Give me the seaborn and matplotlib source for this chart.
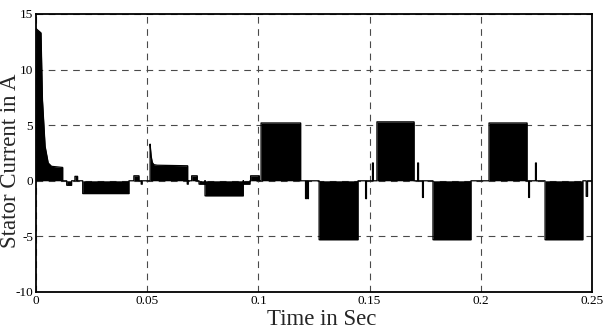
import pandas as pd
import matplotlib
matplotlib.use('Agg')
import matplotlib.pyplot as plt
import seaborn as sns

# Stator current envelope (PWM chopped blocks)
# rectangular blocks and switching spikes: start time, end time, level (A)
seg_start = [0.0138, 0.0175, 0.0210, 0.0440, 0.0473, 0.0680, 0.0700, 0.0733, 0.0760,
             0.0932, 0.0965, 0.1012, 0.1212, 0.1221, 0.1273, 0.1482, 0.1513, 0.1533,
             0.1716, 0.1738, 0.1785, 0.2037, 0.2215, 0.2246, 0.2289, 0.2474]
seg_end = [0.0160, 0.0187, 0.0418, 0.0463, 0.0477, 0.0684, 0.0725, 0.0760, 0.0932,
           0.0962, 0.1004, 0.1190, 0.1216, 0.1225, 0.1448, 0.1486, 0.1517, 0.1700,
           0.1720, 0.1742, 0.1956, 0.2208, 0.2219, 0.2250, 0.2459, 0.2480]
seg_level = [-0.4, 0.4, -1.15, 0.45, -0.3, -0.3, 0.45, -0.3, -1.35,
             -0.3, 0.45, 5.2, -1.6, -1.6, -5.3, -1.6, 1.6, 5.3,
             1.6, -1.5, -5.3, 5.2, -1.5, 1.6, -5.3, -1.4]

# starting surge and the second transient
surge1_t = [0.0, 0.0005, 0.00225, 0.0029, 0.0041, 0.0055, 0.0070, 0.0120]
surge1_i = [13.7, 13.6, 13.3, 7.3, 3.1, 1.6, 1.3, 1.2]
surge2_t = [0.0513, 0.0518, 0.0523, 0.0530, 0.0545, 0.0682]
surge2_i = [3.3, 2.2, 1.65, 1.45, 1.4, 1.35]

x_ticks = [0, 0.05, 0.1, 0.15, 0.2, 0.25]
x_labels = ['0', '0.05', '0.1', '0.15', '0.2', '0.25']
y_ticks = [-10, -5, 0, 5, 10, 15]
y_labels = ['-10', '-5', '0', '5', '10', '15']

# build one outline going back to zero between pieces
pieces = [(surge1_t, surge1_i), (surge2_t, surge2_i)]
for s, e, lv in zip(seg_start, seg_end, seg_level):
    pieces.append(([s, e], [lv, lv]))
pieces.sort(key=lambda p: p[0][0])

t_line = [0.0]
i_line = [0.0]
for tt, ii in pieces:
    t_line += [tt[0]] + list(tt) + [tt[-1]]
    i_line += [0.0] + list(ii) + [0.0]
t_line.append(0.25)
i_line.append(0.0)

df = pd.DataFrame({'Time': t_line, 'Current': i_line})

sns.set_style('white')
plt.rcParams['font.family'] = ['Liberation Serif', 'DejaVu Serif']
plt.rcParams['axes.unicode_minus'] = False

fig = plt.figure(figsize=(6.04, 3.29), dpi=100)
ax = fig.add_axes([0.0596, 0.1125, 0.9205, 0.845])

ax.fill_between(df['Time'], df['Current'], 0, color='black', lw=0, zorder=3)
sns.lineplot(data=df, x='Time', y='Current', estimator=None, sort=False,
             color='black', lw=0.9, ax=ax, zorder=4)

ax.set_xlim(0, 0.25)
ax.set_ylim(-10, 15)
ax.set_xticks(x_ticks)
ax.set_xticklabels(x_labels)
ax.set_yticks(y_ticks)
ax.set_yticklabels(y_labels)
ax.tick_params(direction='in', length=3, width=0.8, labelsize=9.5, pad=2, colors='black')

ax.set_axisbelow(True)
ax.grid(True, ls=(0, (6, 5)), color='#4a4a4a', lw=0.8)
for sp in ax.spines.values():
    sp.set_visible(True)
    sp.set_color('black')
    sp.set_linewidth(1.3)

ax.set_xlabel('')
ax.set_ylabel('')
# axis titles placed as in the original figure
fig.text(322 / 604, 1 - 325 / 329, 'Time in Sec', fontsize=16.5,
         ha='center', va='baseline')
fig.text(11 / 604, 1 - 161 / 329, 'Stator Current in A', fontsize=16.5,
         rotation=90, ha='center', va='center')

fig.savefig('out.png', dpi=100)
